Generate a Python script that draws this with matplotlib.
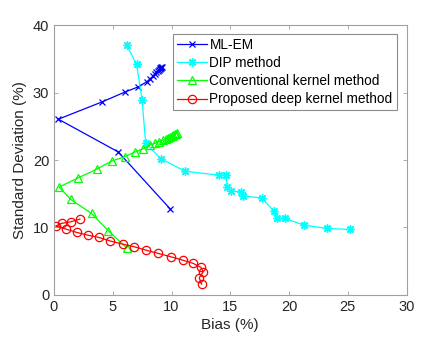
import matplotlib
matplotlib.use("Agg")
import matplotlib.pyplot as plt

# ML-EM (bias %, std %)
mlem_bias = [9.86, 5.47, 0.37, 4.05, 6.04, 7.17, 7.88, 8.2, 8.45, 8.6, 8.72,
             8.82, 8.9, 8.98, 9.04, 9.09, 9.13, 9.16]
mlem_std = [12.8, 21.2, 26.07, 28.6, 30.1, 30.86, 31.6, 32.1, 32.5, 32.8, 33.05,
            33.25, 33.4, 33.55, 33.65, 33.72, 33.8, 33.85]

# DIP method
dip_bias = [6.18, 7.03, 7.5, 7.8, 9.1, 11.14, 14.03, 14.63, 14.74, 15.1, 15.9,
            16.1, 17.66, 18.7, 19.02, 19.64, 21.28, 23.27, 25.2]
dip_std = [37.05, 34.2, 28.9, 22.5, 20.2, 18.35, 17.76, 17.76, 15.93, 15.4, 15.3,
           14.64, 14.4, 12.46, 11.33, 11.33, 10.34, 9.85, 9.7]

# Conventional kernel method
ck_bias = [6.18, 4.62, 3.2, 1.42, 0.43, 2.07, 3.63, 4.9, 6.04, 6.89, 7.6, 8.16,
           8.6, 8.95, 9.25, 9.5, 9.7, 9.88, 10.03, 10.15, 10.26, 10.35, 10.43]
ck_std = [6.97, 9.5, 12.07, 14.15, 16.0, 17.36, 18.65, 19.84, 20.5, 21.2, 21.7,
          22.2, 22.5, 22.75, 22.95, 23.15, 23.3, 23.45, 23.58, 23.7, 23.8, 23.88,
          23.95]

# Proposed deep kernel method
dk_bias = [12.56, 12.36, 12.7, 12.5, 11.85, 10.94, 9.95, 8.87, 7.82, 6.83, 5.84,
           4.76, 3.83, 2.86, 1.93, 1.02, 0.14, 0.65, 1.42, 2.2]
dk_std = [1.59, 2.52, 3.41, 4.07, 4.66, 5.15, 5.64, 6.14, 6.63, 7.13, 7.52,
          8.0, 8.51, 8.86, 9.26, 9.75, 10.2, 10.6, 10.83, 11.23]

plt.rcParams["font.family"] = ["Liberation Sans", "DejaVu Sans"]

fig = plt.figure(figsize=(4.39, 3.42), dpi=100)
ax = fig.add_axes([0.123, 0.138, 0.803, 0.788])

ax.plot(mlem_bias, mlem_std, "x-", color="#0000ff", lw=0.9, ms=4.5, mew=0.9,
        label="ML-EM")
# matlab-style asterisk (8 arms)
ax.plot(dip_bias, dip_std, "-", marker=(8, 2, 0), color="#00ffff", lw=0.9,
        ms=6, mew=1.0, label="DIP method")
ax.plot(ck_bias, ck_std, "^-", color="#00ff00", lw=0.9, ms=6, mew=0.9,
        mfc="none", label="Conventional kernel method")
ax.plot(dk_bias, dk_std, "o-", color="#ff0000", lw=0.9, ms=6, mew=0.9,
        mfc="none", label="Proposed deep kernel method")

ax.set_xlim(0, 30)
ax.set_ylim(0, 40)
ax.set_xticks(range(0, 31, 5))
ax.set_yticks(range(0, 41, 10))
ax.set_xlabel("Bias (%)", fontsize=11, color="#262626", labelpad=3)
ax.set_ylabel("Standard Deviation (%)", fontsize=11, color="#262626", labelpad=4)
ax.tick_params(direction="in", top=True, right=True, labelsize=10.5,
               colors="#262626", length=3, width=0.6)
for tl in ax.get_xticklabels() + ax.get_yticklabels():
    tl.set_color("#262626")
for sp in ax.spines.values():
    sp.set_color("#a0a0a0")
    sp.set_linewidth(0.8)
ax.tick_params(color="#a0a0a0")

leg = ax.legend(loc="upper right", bbox_to_anchor=(0.972, 0.968), fontsize=9.8,
                frameon=True, fancybox=False, borderpad=0.3, handlelength=2.2,
                handletextpad=0.2, labelspacing=0.3, borderaxespad=0.0)
leg.get_frame().set_edgecolor("#707070")
leg.get_frame().set_linewidth(0.8)

fig.savefig("out.png", dpi=100)
